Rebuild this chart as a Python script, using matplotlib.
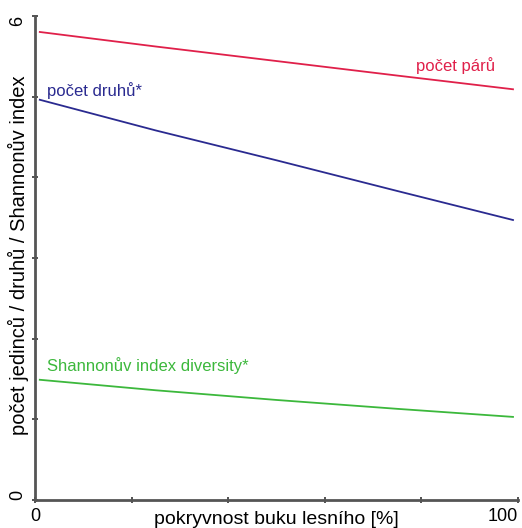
import matplotlib.pyplot as plt

plt.rcParams['font.family'] = ['Liberation Sans', 'DejaVu Sans']

# pokryvnost buku lesního [%]
cover = [1, 25, 50, 75, 99]
pairs = [5.80, 5.62, 5.44, 5.26, 5.09]          # počet párů
species = [4.96, 4.58, 4.21, 3.83, 3.47]        # počet druhů*
shannon = [1.49, 1.36, 1.24, 1.13, 1.03]        # Shannonův index diversity*

x_ticks = [0, 20, 40, 60, 80, 100]
x_labels = ['0', '', '', '', '', '100']
y_ticks = [0, 1, 2, 3, 4, 5, 6]
y_labels = ['0', '', '', '', '', '', '6']

red, blue, green = '#e0204a', '#2a2a90', '#3cb83c'

fig = plt.figure(figsize=(5.22, 5.28), dpi=100)
ax = fig.add_axes([0.067, 0.053, 0.925, 0.917])

ax.plot(cover, pairs, color=red, lw=1.3)
ax.plot(cover, species, color=blue, lw=1.3)
ax.plot(cover, shannon, color=green, lw=1.3)

ax.text(87.2, 5.28, 'počet párů', color=red, fontsize=12, ha='center', va='bottom')
ax.text(2.5, 4.97, 'počet druhů*', color=blue, fontsize=12, ha='left', va='bottom')
ax.text(2.5, 1.56, 'Shannonův index diversity*', color=green, fontsize=12, ha='left', va='bottom')

ax.set_xlim(0, 100)
ax.set_ylim(0, 6)
ax.set_xticks(x_ticks)
ax.set_xticklabels(x_labels, fontsize=13)
ax.set_yticks(y_ticks)
ax.set_yticklabels(y_labels, fontsize=13, rotation=90, va='center')
ax.get_xticklabels()[-1].set_ha('right')
ax.get_yticklabels()[0].set_va('bottom')
ax.get_yticklabels()[-1].set_va('top')
ax.tick_params(direction='inout', length=5, width=1.3, color='#444444', pad=4)
ax.tick_params(axis='x', pad=3)

for s in ['top', 'right']:
    ax.spines[s].set_visible(False)
for s in ['left', 'bottom']:
    ax.spines[s].set_color('#555555')
    ax.spines[s].set_linewidth(2)

ax.set_xlabel('pokryvnost buku lesního [%]', fontsize=14)
ax.xaxis.set_label_coords(0.50, -0.022, transform=ax.transAxes)
ax.xaxis.label.set_va('top')
ax.set_ylabel('počet jedinců / druhů / Shannonův index', fontsize=14.5)
ax.yaxis.set_label_coords(-0.012, 0.505)

fig.savefig('out.png', dpi=100)
